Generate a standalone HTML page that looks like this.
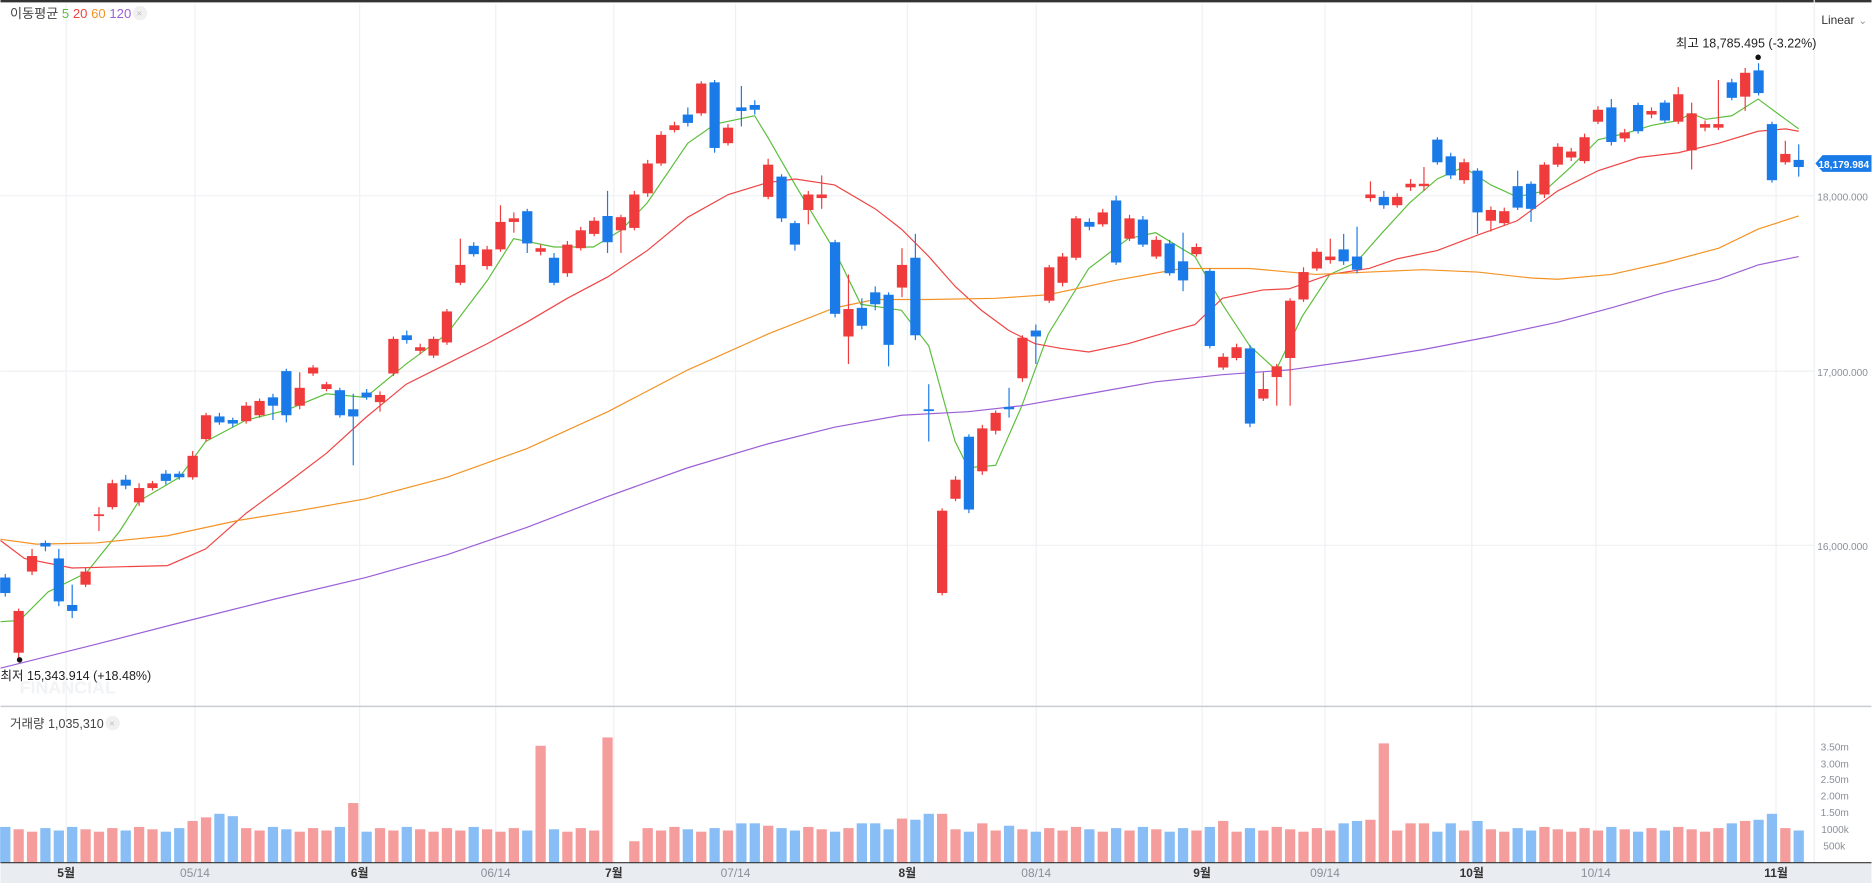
<!DOCTYPE html>
<html><head><meta charset="utf-8"><style>
html,body{margin:0;padding:0;background:#fff;width:1872px;height:883px;overflow:hidden}
svg{display:block}
text{font-family:"Liberation Sans","Noto Sans CJK KR",sans-serif}
</style></head><body>
<svg id="s" width="1872" height="883" viewBox="0 0 1568 740" xmlns="http://www.w3.org/2000/svg">
<rect width="1568" height="740" fill="#fff"/>
<g id="grid" stroke="#eef0f3" stroke-width="1"></g>
<line x1="0" y1="1" x2="1568" y2="1" stroke="#333" stroke-width="2"/>
<line x1="1520" y1="0" x2="1520" y2="723" stroke="#eceef1"/>
<line x1="0" y1="592" x2="1568" y2="592" stroke="#c9ccd2" stroke-width="1.2"/>
<text x="16" y="581" font-size="15" font-weight="bold" fill="#f2f3f5">FINANCIAL</text>
<g id="ma" fill="none" stroke-width="1"></g>
<g id="candles"></g>
<g id="vol"></g>
<rect x="0" y="723" width="1568" height="17" fill="#e9ecf1"/>
<line x1="0" y1="723" x2="1568" y2="723" stroke="#333" stroke-width="1"/>
<g id="xl" font-size="10" text-anchor="middle"></g>
<g font-size="8.5" fill="#8a8f99" text-anchor="end">
<text x="1565" y="168">18,000.000</text>
<text x="1565" y="315">17,000.000</text>
<text x="1565" y="461">16,000.000</text>
<text x="1549" y="629">3.50m</text>
<text x="1549" y="643">3.00m</text>
<text x="1549" y="656">2.50m</text>
<text x="1549" y="670">2.00m</text>
<text x="1549" y="684">1.50m</text>
<text x="1549" y="698">1000k</text>
<text x="1546" y="712">500k</text>
</g>
<polygon points="1521,137 1527,130 1568,130 1568,144 1527,144" fill="#1a7be8"/>
<text x="1566" y="141" font-size="8.5" font-weight="bold" fill="#fff" text-anchor="end">18,179.984</text>
<text x="8" y="15" font-size="11" fill="#444">이동평균 <tspan fill="#5cbf3c">5</tspan> <tspan fill="#ef4444">20</tspan> <tspan fill="#f39325">60</tspan> <tspan fill="#9c5fd6">120</tspan></text>
<circle cx="117" cy="11" r="6" fill="#f0f0f0"/><text x="114" y="14" font-size="8" fill="#bbb">×</text>
<text x="1526" y="20" font-size="10" fill="#333">Linear</text><text x="1557" y="20" font-size="9" fill="#999">⌄</text>
<text x="1404" y="40" font-size="10.5" fill="#222">최고 18,785.495 (-3.22%)</text>
<circle cx="1473" cy="48" r="2.3" fill="#111"/>
<text x="0" y="570" font-size="10.5" fill="#222">최저 15,343.914 (+18.48%)</text>
<circle cx="16" cy="553" r="2.3" fill="#111"/>
<text x="8" y="610" font-size="10.5" fill="#444">거래량 1,035,310</text>
<circle cx="94" cy="606" r="6" fill="#f0f0f0"/><text x="91" y="609" font-size="8" fill="#bbb">×</text>
</svg>
<script>
var NS="http://www.w3.org/2000/svg";
function el(p,t,a){var e=document.createElementNS(NS,t);for(var k in a)e.setAttribute(k,a[k]);document.getElementById(p).appendChild(e);return e;}
[55,163,301,415,514,616,760,868,1007,1110,1233,1337,1488].forEach(function(x){el("grid","line",{x1:x,y1:3,x2:x,y2:723});});
[164,311,457].forEach(function(y){el("grid","line",{x1:0,y1:y,x2:1520,y2:y});});
var xl=[[55,"5월",1],[163,"05/14",0],[301,"6월",1],[415,"06/14",0],[514,"7월",1],[616,"07/14",0],[760,"8월",1],[868,"08/14",0],[1007,"9월",1],[1110,"09/14",0],[1233,"10월",1],[1337,"10/14",0],[1488,"11월",1]];
xl.forEach(function(a){var t=el("xl","text",{x:a[0],y:735,fill:a[2]?"#333":"#8a8f99","font-weight":a[2]?"bold":"normal"});t.textContent=a[1];});
var C=[[484,497,'b'],[512,547,'r',510,553],[466,479,'r',460,482],[455,458,'b',453,462],[468,504,'b',460,508],[507,512,'b',490,518],[479,490,'r',476,492],[431,432,'r',425,445],[405,425,'r',402,427],[402,407,'b',398,410],[409,421,'r',405,424],[405,409,'r',403,411],[397,403,'b',394,406],[397,400,'b',395,402],[382,400,'r',378,402],[348,368,'r',346,370],[349,354,'b',346,356],[352,355,'b',350,358],[340,353,'r',337,355],[336,348,'r',334,350],[333,340,'b',330,352],[311,348,'b',309,354],[325,340,'r',312,343],[308,313,'r',306,315],[322,326,'r',320,328],[327,348,'b',325,350],[343,349,'b',330,390],[329,333,'b',326,335],[331,337,'r',328,345],[284,313,'r',282,315],[281,285,'b',277,288],[291,294,'r',288,297],[284,298,'r',282,300],[261,287,'r',259,289],[222,237,'r',200,239],[206,213,'b',203,215],[209,223,'r',206,226],[186,209,'r',172,211],[183,186,'r',178,195],[177,204,'b',175,212],[208,211,'r',205,214],[216,237,'b',212,239],[205,229,'r',202,232],[193,208,'r',190,210],[185,196,'r',182,198],[181,203,'b',160,212],[182,193,'r',180,212],[163,191,'r',160,193],[137,162,'r',134,165],[113,137,'r',110,139],[105,109,'r',102,111],[96,103,'b',90,106],[70,95,'r',68,97],[69,124,'b',67,128],[107,120,'r',104,122],[90,93,'b',72,106],[88,92,'b',84,96],[138,165,'r',133,167],[148,183,'b',146,186],[187,205,'b',185,210],[163,176,'r',160,188],[163,166,'r',147,175],[203,263,'b',201,266],[259,282,'r',230,305],[258,273,'b',250,276],[245,255,'b',240,260],[247,289,'b',245,307],[222,241,'r',208,249],[216,281,'b',196,285],[343,344,'b',322,370],[428,497,'r',426,499],[402,418,'r',399,420],[366,427,'b',364,430],[359,395,'r',356,398],[346,361,'r',344,364],[341,343,'b',325,350],[283,317,'r',281,320],[277,282,'b',272,305],[224,252,'r',222,254],[215,237,'r',212,240],[183,216,'r',181,218],[186,190,'b',183,193],[178,188,'r',175,190],[168,220,'b',164,222],[183,200,'r',180,202],[184,205,'b',181,207],[201,215,'r',198,217],[204,229,'b',201,231],[219,235,'b',195,244],[207,213,'r',204,215],[227,290,'b',225,292],[299,308,'r',296,310],[291,300,'r',288,302],[292,355,'b',289,358],[326,334,'r',312,336],[307,316,'r',305,340],[252,300,'r',250,340],[228,251,'r',224,253],[211,225,'r',208,227],[215,218,'r',200,221],[209,219,'b',196,222],[215,226,'b',190,229],[163,166,'r',152,169],[165,172,'b',160,175],[165,172,'r',162,174],[154,157,'r',150,160],[154,156,'r',140,160],[117,136,'b',115,138],[131,147,'b',128,150],[136,151,'r',133,154],[143,178,'b',141,196],[176,185,'r',173,194],[177,187,'r',174,189],[156,174,'b',143,176],[154,175,'b',152,186],[138,163,'r',136,166],[123,138,'r',120,140],[127,132,'r',124,135],[115,135,'r',112,137],[92,102,'r',89,104],[90,119,'b',83,122],[111,116,'r',108,119],[88,110,'b',86,112],[93,96,'r',90,99],[86,101,'b',84,103],[79,102,'r',73,104],[95,126,'r',86,142],[104,107,'r',101,110],[104,107,'r',67,109],[69,82,'b',66,84],[61,81,'r',57,93],[59,78,'b',53,80],[104,151,'b',102,153],[129,136,'r',118,138],[134,140,'b',121,148]];
var N=C.length, dx=(1507-4)/(N-1);
var V={26:673,40:625,45:618,46:723,47:705,70:682,73:690,75:692,91:688,103:623,14:688,15:685,16:682,17:684,55:690,56:690,57:692,64:690,65:690,67:686,68:687,69:682,100:690,101:688,102:687,105:690,106:690,108:690,110:688,129:690,130:688,131:687,132:682};
var VR={26:1,40:1,45:1,103:1};
for(var i=0;i<N;i++){
  var c=C[i], x=4+dx*i, col=c[2]=='r'?'#ef3b3b':'#1a7be8';
  var wt=c[3]||c[0]-3, wb=c[4]||c[1]+3;
  el("candles","line",{x1:x,y1:wt,x2:x,y2:wb,stroke:col,"stroke-width":1});
  el("candles","rect",{x:x-4.3,y:c[0],width:8.6,height:Math.max(1.5,c[1]-c[0]),fill:col});
  var vt=V[i]!==undefined?V[i]:(695+((i*7)%5)-2);
  var red=VR[i]||c[2]=='r';
  if(vt<723) el("vol","rect",{x:x-4.3,y:vt,width:8.6,height:723-vt,fill:red?'#f59c9c':'#88bdf5'});
}
function pl(pts,col){el("ma","polyline",{points:pts.map(function(p){return p.join(",");}).join(" "),stroke:col});}
pl([[0,521],[16,520],[40,496],[72,480],[100,445],[116,420],[150,400],[172,370],[206,352],[239,344],[273,330],[306,333],[340,305],[374,280],[408,235],[430,200],[464,207],[497,207],[520,193],[542,170],[576,120],[599,104],[632,97],[643,115],[666,155],[699,210],[721,255],[755,260],[778,290],[800,370],[811,392],[834,390],[856,340],[878,280],[912,225],[945,200],[968,195],[1001,215],[1024,255],[1047,290],[1069,310],[1091,265],[1114,230],[1136,220],[1158,195],[1181,170],[1204,150],[1226,140],[1249,155],[1271,165],[1294,160],[1316,140],[1339,117],[1361,112],[1384,105],[1406,101],[1417,95],[1429,100],[1451,97],[1473,83],[1496,100],[1507,108]],"#5cbf3c");
pl([[0,453],[20,468],[60,476],[100,475],[140,474],[172,460],[206,430],[240,405],[273,380],[306,350],[340,322],[374,305],[408,288],[441,270],[475,250],[509,232],[542,210],[576,182],[610,163],[643,153],[666,150],[699,155],[733,175],[755,192],[778,215],[800,240],[822,260],[845,277],[867,288],[889,292],[912,295],[945,288],[979,278],[1001,272],[1024,250],[1058,243],[1080,242],[1114,230],[1147,225],[1170,217],[1204,210],[1238,197],[1271,185],[1305,160],[1339,143],[1373,132],[1406,128],[1440,120],[1473,110],[1496,108],[1507,110]],"#ef4444");
pl([[0,452],[30,456],[80,455],[140,449],[200,436],[250,428],[306,418],[374,400],[441,376],[509,345],[576,310],[643,280],[699,258],[733,251],[778,251],[834,250],[878,247],[934,235],[990,225],[1047,225],[1102,230],[1147,228],[1192,226],[1238,228],[1283,233],[1305,234],[1350,230],[1395,220],[1440,208],[1473,192],[1507,181]],"#f39325");
pl([[0,560],[80,540],[150,522],[230,502],[306,484],[374,465],[441,442],[509,416],[576,392],[643,372],[699,358],[755,348],[811,345],[856,340],[912,330],[968,320],[1024,314],[1080,310],[1136,302],[1192,293],[1249,282],[1305,270],[1350,258],[1395,245],[1440,234],[1473,222],[1507,215]],"#9c5fd6");
</script>
</body></html>
